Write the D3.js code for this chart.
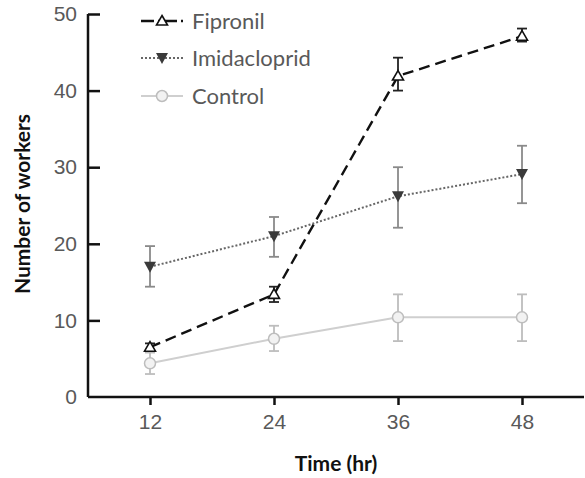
<!DOCTYPE html>
<html>
<head>
<meta charset="utf-8">
<script src="https://cdn.jsdelivr.net/npm/d3@7"></script>
<style>
  body { margin: 0; background: #fff; }
  svg { display: block; font-family: Lato, "Open Sans", sans-serif; }
</style>
</head>
<body>
<svg width="585" height="478"></svg>
<script>
// time points (hr)
const times = [12, 24, 36, 48]
const yTicks = [0, 10, 20, 30, 40, 50]

// means and error bar ends
const fipronil = [6.5, 13.4, 41.9, 47.1]
const fipronilLo = [6.0, 12.4, 40.0, 46.4]
const fipronilHi = [7.0, 14.4, 44.3, 48.1]

const imida = [17.0, 21.0, 26.2, 29.1]
const imidaLo = [14.4, 18.3, 22.1, 25.3]
const imidaHi = [19.7, 23.5, 30.0, 32.8]

const control = [4.4, 7.6, 10.4, 10.4]
const controlLo = [3.0, 6.0, 7.3, 7.3]
const controlHi = [5.8, 9.3, 13.4, 13.4]

const seriesNames = ["Fipronil", "Imidacloprid", "Control"]

const svg = d3.select('svg')

const xScale = d3.scaleLinear().domain([6, 54]).range([88, 584])
const yScale = d3.scaleLinear().domain([0, 50]).range([397, 14])

// build series objects for drawing
const series = [
  { name: seriesNames[0], vals: fipronil, lo: fipronilLo, hi: fipronilHi,
    line: "#111", dash: "11,6", width: 2.4, err: "#222", marker: "triUp" },
  { name: seriesNames[1], vals: imida, lo: imidaLo, hi: imidaHi,
    line: "#666", dash: "2,2", width: 2, err: "#8a8a8a", marker: "triDown" },
  { name: seriesNames[2], vals: control, lo: controlLo, hi: controlHi,
    line: "#cfcfcf", dash: null, width: 2, err: "#bdbdbd", marker: "circle" }
]

// axes
const xAxis = svg.append('g')
  .attr('transform', `translate(0, ${yScale(0)})`)
  .call(d3.axisBottom(xScale).tickValues(times).tickSize(8).tickPadding(9))
xAxis.select('.domain').attr('d', `M88,0H584`).attr('stroke', '#111').attr('stroke-width', 2.5)
xAxis.selectAll('.tick line').attr('stroke', '#111').attr('stroke-width', 2.5)
xAxis.selectAll('.tick text').attr('fill', '#595959').style('font-size', '21px')

const yAxis = svg.append('g')
  .attr('transform', `translate(${xScale(6)}, 0)`)
  .call(d3.axisLeft(yScale).tickValues(yTicks).tickSize(-12).tickPadding(11))
yAxis.select('.domain').attr('d', `M0,${yScale(50)}V${yScale(0)}`).attr('stroke', '#111').attr('stroke-width', 2.5)
yAxis.selectAll('.tick line').attr('stroke', '#111').attr('stroke-width', 2.5)
yAxis.selectAll('.tick').filter(d => d === 0).select('line').remove()
yAxis.selectAll('.tick text').attr('fill', '#595959').style('font-size', '21px')

// axis titles
svg.append('text')
  .attr('x', 336).attr('y', 471)
  .attr('text-anchor', 'middle')
  .style('font-size', '21px').style('font-weight', 'bold')
  .attr('fill', '#111')
  .text('Time (hr)')

svg.append('text')
  .attr('transform', 'translate(30, 204) rotate(-90)')
  .attr('text-anchor', 'middle')
  .style('font-size', '21px').style('font-weight', 'bold')
  .attr('fill', '#111')
  .text('Number of workers')

function drawMarker(g, type, x, y, s) {
  if (type === "triUp") {
    g.append('path')
      .attr('d', `M${x},${y - 5.5}L${x + 5.5},${y + 4}L${x - 5.5},${y + 4}Z`)
      .attr('fill', '#fff').attr('stroke', s.line).attr('stroke-width', 1.6)
  } else if (type === "triDown") {
    g.append('path')
      .attr('d', `M${x - 6},${y - 5}L${x + 6},${y - 5}L${x},${y + 6}Z`)
      .attr('fill', '#3a3a3a')
  } else {
    g.append('circle')
      .attr('cx', x).attr('cy', y).attr('r', 5.5)
      .attr('fill', '#f2f2f2').attr('stroke', '#bdbdbd').attr('stroke-width', 1.5)
  }
}

const line = d3.line().x((d, i) => xScale(times[i])).y(d => yScale(d))

// draw control first, then imidacloprid, fipronil on top
series.slice().reverse().forEach(s => {
  const g = svg.append('g')
  // error bars
  times.forEach((t, i) => {
    const x = xScale(t)
    g.append('line').attr('x1', x).attr('x2', x)
      .attr('y1', yScale(s.lo[i])).attr('y2', yScale(s.hi[i]))
      .attr('stroke', s.err).attr('stroke-width', 1.8)
    ;[s.lo[i], s.hi[i]].forEach(v => {
      g.append('line').attr('x1', x - 5).attr('x2', x + 5)
        .attr('y1', yScale(v)).attr('y2', yScale(v))
        .attr('stroke', s.err).attr('stroke-width', 1.8)
    })
  })
  g.append('path')
    .attr('d', line(s.vals))
    .attr('fill', 'none')
    .attr('stroke', s.line)
    .attr('stroke-width', s.width)
    .attr('stroke-dasharray', s.dash)
  times.forEach((t, i) => drawMarker(g, s.marker, xScale(t), yScale(s.vals[i]), s))
})

// legend
const legendY = [21, 58, 96]
series.forEach((s, i) => {
  const g = svg.append('g')
  const y = legendY[i]
  g.append('line').attr('x1', 141).attr('x2', 183).attr('y1', y).attr('y2', y)
    .attr('stroke', s.line).attr('stroke-width', s.width)
    .attr('stroke-dasharray', i === 0 ? "13,4,2,4" : s.dash)
  drawMarker(g, s.marker, 162, y, s)
  g.append('text').attr('x', 192).attr('y', y).attr('dy', '0.35em')
    .attr('fill', '#595959').style('font-size', '22px')
    .text(s.name)
})
</script>
</body>
</html>
